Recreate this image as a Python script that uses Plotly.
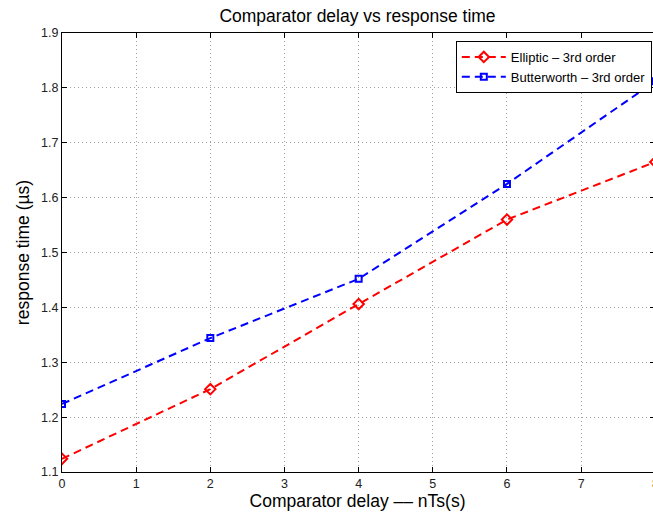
import plotly.graph_objects as go

delay = [0, 2, 4, 6, 8]
elliptic = [1.124, 1.251, 1.406, 1.560, 1.665]
butterworth = [1.224, 1.344, 1.452, 1.625, 1.812]
x_ticks = [0, 1, 2, 3, 4, 5, 6, 7]
y_ticks = [1.1, 1.2, 1.3, 1.4, 1.5, 1.6, 1.7, 1.8, 1.9]

FONT = "Liberation Sans, Arial, Helvetica, sans-serif"
XMAX = 7.969

fig = go.Figure()
fig.add_trace(go.Scatter(
    x=delay, y=elliptic, mode="lines+markers", name="Elliptic – 3rd order",
    line=dict(color="#ff0000", width=2, dash="8px,5px"),
    marker=dict(symbol="diamond-open", size=8, color="#ff0000", line=dict(width=2)),
    cliponaxis=True,
))
fig.add_trace(go.Scatter(
    x=delay, y=butterworth, mode="lines+markers", name="Butterworth – 3rd order",
    line=dict(color="#0000ff", width=2, dash="8px,5px"),
    marker=dict(symbol="square-open", size=6, color="#0000ff", line=dict(width=2)),
    cliponaxis=True,
))
# invisible trace to activate right-side tick axis
fig.add_trace(go.Scatter(x=[0], y=[1.5], yaxis="y2", mode="markers",
                         marker=dict(opacity=0), showlegend=False, hoverinfo="skip"))

fig.update_layout(
    width=653, height=516,
    margin=dict(l=62, r=0, t=33, b=44),
    paper_bgcolor="white", plot_bgcolor="white",
    font=dict(family=FONT, size=12, color="#000000"),
    title=dict(text="Comparator delay vs response time", x=0.5, xref="paper",
               xanchor="center", y=1 - 16 / 516, yanchor="middle",
               font=dict(size=17.5, color="#000000")),
    xaxis=dict(
        range=[0, XMAX], tickvals=x_ticks, ticktext=[str(v) for v in x_ticks],
        ticks="inside", ticklen=5, tickcolor="#000", tickwidth=1,
        showline=True, linecolor="#000", linewidth=1, mirror="ticks",
        showgrid=True, gridcolor="#a0a0a0", gridwidth=1, griddash="1px,3px",
        zeroline=False,
        tickfont=dict(size=12.5, color="#222"),
        title=dict(text="Comparator delay –– nTs(s)", font=dict(size=17.5), standoff=2),
    ),
    yaxis=dict(
        range=[1.1, 1.9], tickvals=y_ticks, ticktext=[f"{v:.1f}" for v in y_ticks],
        ticks="inside", ticklen=5, tickcolor="#000", tickwidth=1,
        showline=True, linecolor="#000", linewidth=1, mirror=False,
        showgrid=True, gridcolor="#a0a0a0", gridwidth=1, griddash="1px,3px",
        zeroline=False,
        tickfont=dict(size=12.5, color="#222"),
        title=dict(text="response time (µs)", font=dict(size=17.5), standoff=6),
    ),
    yaxis2=dict(
        overlaying="y", side="right", matches="y", range=[1.1, 1.9],
        tickvals=y_ticks, ticks="inside", ticklen=3, tickcolor="#000",
        showticklabels=False, showgrid=False, showline=False, zeroline=False,
    ),
    legend=dict(
        x=0.998, y=1 - 8 / 439, xanchor="right", yanchor="top",
        bgcolor="white", bordercolor="#000", borderwidth=1,
        font=dict(size=13, color="#000"), tracegroupgap=0, itemwidth=44,
    ),
    showlegend=True,
)
fig.add_annotation(text="8", xref="paper", yref="paper", x=8 / XMAX, y=0,
                   yshift=-12, showarrow=False, xanchor="center", yanchor="middle",
                   font=dict(size=12.5, color="#222"))

fig.write_html("out.html")
